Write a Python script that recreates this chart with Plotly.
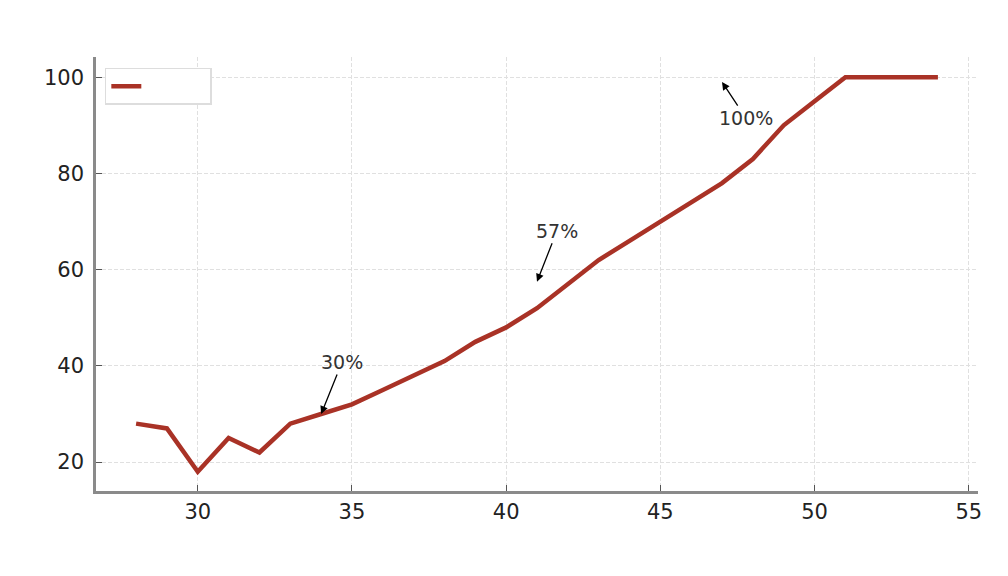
import plotly.graph_objects as go

x_vals = list(range(28, 55))
y_vals = [28, 27, 18, 25, 22, 28, 30, 32, 35, 38, 41, 45, 48, 52, 57, 62, 66, 70, 74, 78, 83, 90, 95, 100, 100, 100, 100]

ann_x = [34, 41, 47]
ann_y = [30, 57.5, 99]
ann_text = ["30%", "57%", "100%"]
ann_ax = [21, 20, 24]
ann_ay = [-52, -51, 36]

fig = go.Figure()
fig.add_trace(go.Scatter(x=x_vals, y=y_vals, mode="lines", name=" " * 14,
                         line=dict(color="#A93226", width=4.5)))

for xx, yy, t, axo, ayo in zip(ann_x, ann_y, ann_text, ann_ax, ann_ay):
    fig.add_annotation(x=xx, y=yy, text=t, showarrow=True, ax=axo, ay=ayo,
                       arrowhead=2, arrowsize=1.2, arrowwidth=1.3, arrowcolor="black",
                       font=dict(size=19, color="#333333", family="DejaVu Sans"))

axis_common = dict(showline=True, linecolor="#8a8a8a", linewidth=2.5,
                   ticks="inside", tickcolor="#555555", ticklen=6, tickwidth=1,
                   showgrid=True, gridcolor="#e0e0e0", griddash="4px,2px", gridwidth=1,
                   zeroline=False, tickfont=dict(size=21, color="#222222", family="DejaVu Sans"))

fig.update_xaxes(range=[26.7, 55.3], tickvals=[30, 35, 40, 45, 50, 55], **axis_common)
fig.update_yaxes(range=[14.0, 104.2], tickvals=[20, 40, 60, 80, 100],
                 ticklabelstandoff=5, **axis_common)

fig.update_layout(
    width=1008, height=576,
    margin=dict(l=88, r=38, t=49, b=93),
    plot_bgcolor="white", paper_bgcolor="white",
    showlegend=True,
    legend=dict(x=0.01, y=0.975, xanchor="left", yanchor="top",
                bgcolor="white", bordercolor="#dddddd", borderwidth=1.5,
                font=dict(size=16)),
)

fig.write_html("out.html")
